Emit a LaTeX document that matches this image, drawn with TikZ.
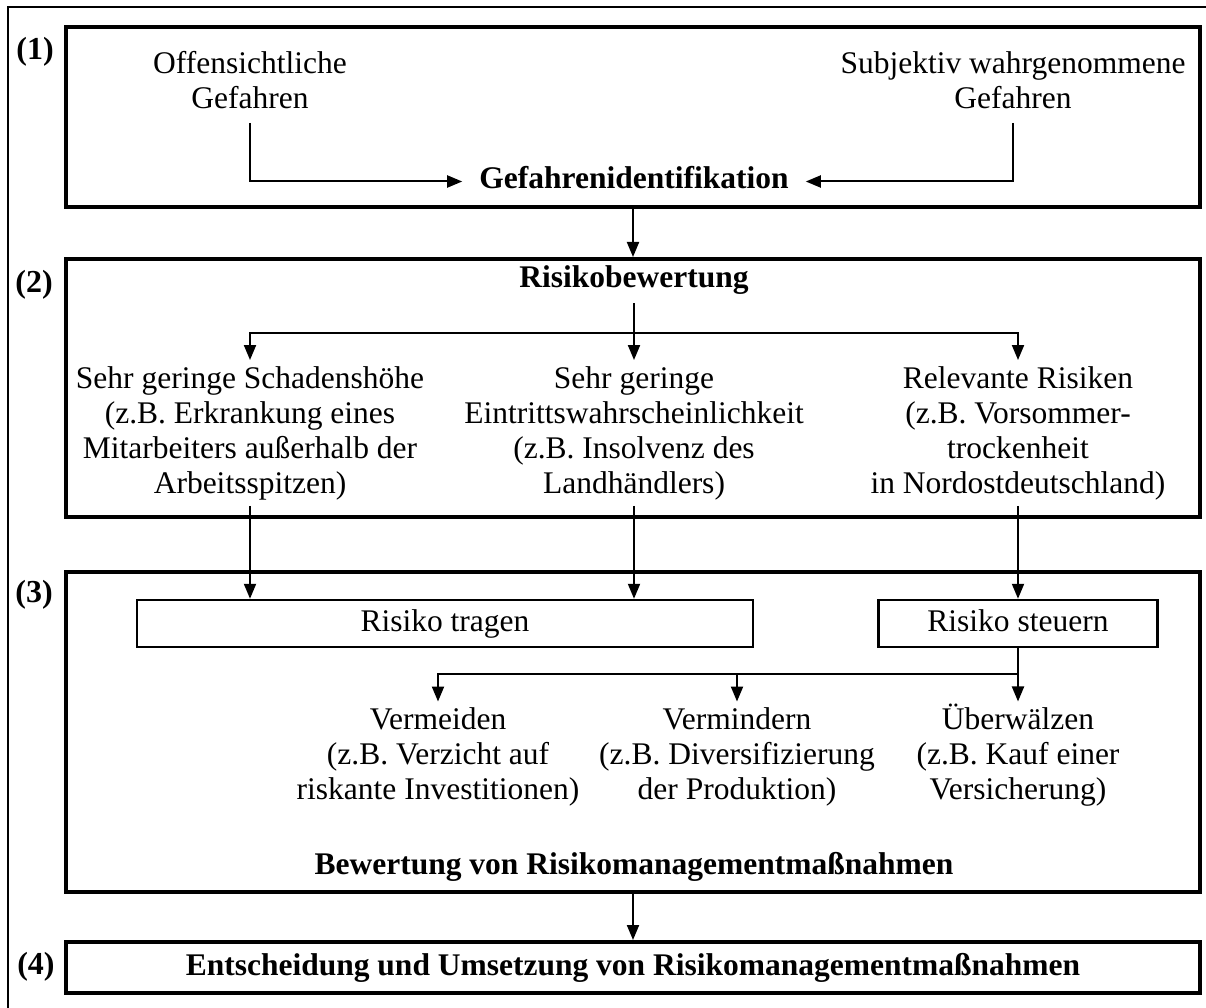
\documentclass[tikz,border=0pt]{standalone}
\usepackage{fontspec}
\setmainfont{Liberation Serif}
\usetikzlibrary{arrows.meta}

\begin{document}
\begin{tikzpicture}[x=1pt,y=-1pt,
	every node/.style={font=\fontsize{31.5}{35}\selectfont},
	stage/.style={draw,line width=4pt,inner sep=0pt},
	subbox/.style={draw,line width=2.5pt,text height=21pt,text depth=6pt,inner sep=0pt},
	head/.style={font=\fontsize{31.5}{35}\selectfont\bfseries,text height=21pt,text depth=6pt,inner xsep=17pt,inner ysep=10pt},
	src/.style={align=center,inner xsep=4pt,inner ysep=14pt},
	item/.style={align=center,inner sep=6pt},
	num/.style={font=\fontsize{32}{35}\selectfont\bfseries},
	arr/.style={line width=2pt,-{Triangle[length=15pt,width=12pt]}}]
	\useasboundingbox (0,0) rectangle (1206,1008);
	%\draw[help lines] (0,0) grid[step=100] (1206,1008);
	\draw[line width=2.3pt] (8,1008) -- (8,7) -- (1206,7);
	% (1)
	\node[stage,minimum width=1134pt,minimum height=180pt] (s1) at (633,117) {};
	\node[num] (n1) at (35,52) {(1)};
	\node[src] (off) at (250,80) {Offensichtliche\\Gefahren};
	\node[src] (subj) at (1013,80) {Subjektiv wahrgenommene\\Gefahren};
	\node[head] (gid) at (634,181.5) {Gefahrenidentifikation};
	\draw[arr] (off.south) |- (gid.west);
	\draw[arr] (subj.south) |- (gid.east);
	% (2)
	\node[stage,minimum width=1134pt,minimum height=258pt] (s2) at (633,388) {};
	\node[num] (n2) at (34,285) {(2)};
	\node[head] (rb) at (634,279.5) {Risikobewertung};
	\draw[arr] (s1.south) -- (s2.north);
	\coordinate (fork1) at (634,333);
	\node[item] (lo) at (250,433) {Sehr geringe Schadenshöhe\\(z.B. Erkrankung eines\\Mitarbeiters außerhalb der\\Arbeitsspitzen)};
	\node[item] (mid) at (634,433) {Sehr geringe\\Eintrittswahrscheinlichkeit\\(z.B. Insolvenz des\\Landhändlers)};
	\node[item] (hi) at (1018,433) {Relevante Risiken\\(z.B. Vorsommer-\\trockenheit\\in Nordostdeutschland)};
	\draw[arr] (rb.south) -- (mid.north);
	\draw[arr] (fork1) -| (lo.north);
	\draw[arr] (fork1) -| (hi.north);
	% (3)
	\node[stage,minimum width=1134pt,minimum height=320pt] (s3) at (633,732) {};
	\node[num] (n3) at (34,595) {(3)};
	\node[subbox,minimum width=616pt,minimum height=47pt] (tragen) at (445,623.5) {Risiko tragen};
	\node[subbox,minimum width=279pt,minimum height=47pt] (steuern) at (1018,623.5) {Risiko steuern};
	\draw[arr] (lo.south) -- (lo.south |- tragen.north);
	\draw[arr] (mid.south) -- (mid.south |- tragen.north);
	\draw[arr] (hi.south) -- (steuern.north);
	\coordinate (fork2) at (1018,674);
	\node[item] (avoid) at (438,757) {Vermeiden\\(z.B. Verzicht auf\\riskante Investitionen)};
	\node[item] (reduce) at (737,757) {Vermindern\\(z.B. Diversifizierung\\der Produktion)};
	\node[item] (shift) at (1018,757) {\smash{Ü}berwälzen\\(z.B. Kauf einer\\Versicherung)};
	\draw[arr] (steuern.south) -- (shift.north);
	\draw[arr] (fork2) -| (avoid.north);
	\draw[arr] (fork2) -| (reduce.north);
	\node[head] (bew) at (634,866.5) {Bewertung von Risikomanagementmaßnahmen};
	% (4)
	\node[stage,minimum width=1134pt,minimum height=51pt,font=\fontsize{31.5}{35}\selectfont\bfseries,text height=21pt,text depth=6pt] (s4) at (633,967.5) {Entscheidung und Umsetzung von Risikomanagementmaßnahmen};
	\node[num] (n4) at (36,967) {(4)};
	\draw[arr] (s3.south) -- (s4.north);
\end{tikzpicture}
\end{document}
